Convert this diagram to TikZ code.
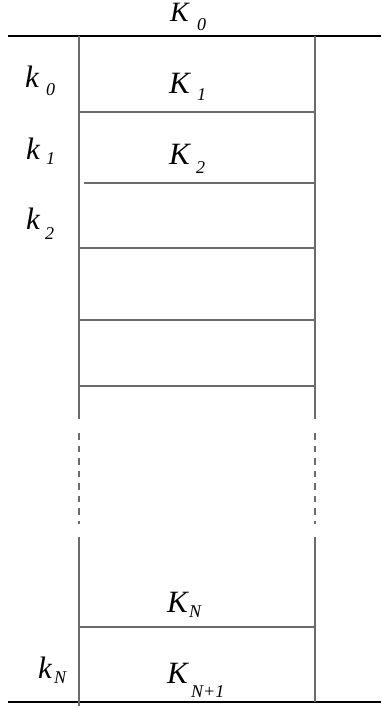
\documentclass[tikz,border=0pt]{standalone}
\usepackage{fontspec}
\setmainfont{Liberation Serif}
\begin{document}
\begin{tikzpicture}[x=1pt,y=-1pt,
  frame/.style={line width=1.3pt, draw=black!58},
  rule/.style={line width=1.3pt, draw=black},
  big/.style={font=\fontsize{31}{31}\selectfont\itshape, inner sep=0pt, anchor=base west},
  topbig/.style={font=\fontsize{28}{28}\selectfont\itshape, inner sep=0pt, anchor=base west},
  small/.style={font=\fontsize{18}{18}\selectfont\itshape, inner sep=0pt, anchor=base west}]
\useasboundingbox (0,0) rectangle (381,709);
% outer rules
\draw[rule] (8,36) -- (381,36);
\draw[rule] (8,702) -- (381,702);
% verticals
\draw[frame] (79,36) -- (79,419);
\draw[frame] (79,537) -- (79,706);
\draw[frame,dash pattern=on 6.5pt off 6pt] (79,433) -- (79,524);
\draw[frame] (315,36) -- (315,419);
\draw[frame] (315,537) -- (315,702);
\draw[frame,dash pattern=on 6.5pt off 6pt] (315,433) -- (315,524);
% horizontals
\draw[frame] (79,112) -- (315,112);
\draw[frame] (84,183) -- (315,183);
\draw[frame] (79,248) -- (315,248);
\draw[frame] (79,320) -- (315,320);
\draw[frame] (79,386) -- (315,386);
\draw[frame] (79,627) -- (315,627);
% labels
\node[topbig] (K0)  at (170,22)  {K};
\node[small]  (K0s) at (197,31)  {0};
\node[big]   (k0)  at (25,87)   {k};
\node[small] (k0s) at (46,95)   {0};
\node[big]   (K1)  at (169,93)  {K};
\node[small] (K1s) at (197,100) {1};
\node[big]   (k1)  at (26,159)  {k};
\node[small] (k1s) at (46,164)  {1};
\node[big]   (K2)  at (169,164) {K};
\node[small] (K2s) at (196,173) {2};
\node[big]   (k2)  at (26,229)  {k};
\node[small] (k2s) at (45,239)  {2};
\node[big]   (KN)  at (167,612) {K};
\node[small] (KNs) at (189,617) {N};
\node[big]   (kN)  at (38,678)  {k};
\node[small] (kNs) at (54,683)  {N};
\node[big]   (KN1) at (167,683) {K};
\node[small] (KN1s) at (191,697) {N+1};
\end{tikzpicture}
\end{document}
